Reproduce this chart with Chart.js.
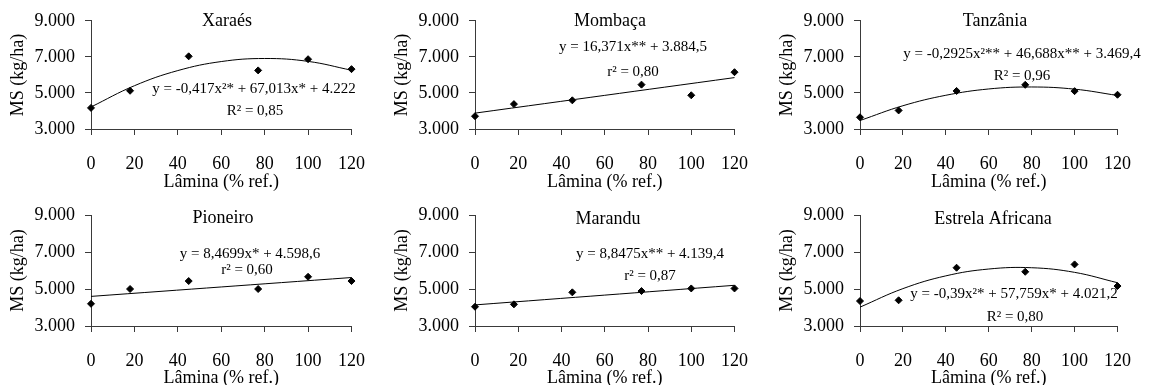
<!DOCTYPE html>
<html lang="pt-BR">
<head>
<meta charset="utf-8">
<title>MS x Lâmina</title>
<script src="https://cdn.jsdelivr.net/npm/chart.js@4.4.0/dist/chart.umd.min.js"></script>
<style>
    html, body { margin: 0; padding: 0; background: #fff; overflow: hidden; }
    #grid { position: relative; width: 1149px; height: 385px; overflow: hidden; }
    #grid canvas { position: absolute; }
</style>
</head>
<body>
<div id="grid"></div>
<script>
// eixos
const laminas = [0, 18, 45, 77, 100, 120];
const xTicks = [0, 20, 40, 60, 80, 100, 120];
const yTicks = [3000, 5000, 7000, 9000];
const yTickLabels = ['3.000', '5.000', '7.000', '9.000'];

// MS observada (kg/ha)
const msXaraes = [4170, 5120, 7030, 6250, 6870, 6320];
const msMombaca = [3710, 4380, 4590, 5460, 4870, 6150];
const msTanzania = [3650, 4030, 5110, 5450, 5100, 4900];
const msPioneiro = [4200, 5000, 5430, 5000, 5660, 5430];
const msMarandu = [4040, 4170, 4820, 4890, 5030, 5030];
const msEstrela = [4350, 4390, 6150, 5930, 6330, 5160];

// curvas ajustadas
const curveX = [0, 20, 40, 60, 80, 100, 120];
const lineX = [0, 120];
const fitXaraes = [4220, 5400, 6240, 6740, 6910, 6750, 6260];
const fitMombaca = [3880, 5850];
const fitTanzania = [3470, 4290, 4870, 5220, 5330, 5210, 4860];
const fitPioneiro = [4600, 5620];
const fitMarandu = [4140, 5200];
const fitEstrela = [4020, 5020, 5710, 6080, 6150, 5900, 5340];

// textos
const titles = ['Xaraés', 'Mombaça', 'Tanzânia', 'Pioneiro', 'Marandu', 'Estrela Africana'];
const equations = [
    'y = -0,417x²* + 67,013x* + 4.222',
    'y = 16,371x** + 3.884,5',
    'y = -0,2925x²** + 46,688x** + 3.469,4',
    'y = 8,4699x* + 4.598,6',
    'y = 8,8475x** + 4.139,4',
    'y = -0,39x²* + 57,759x* + 4.021,2'
];
const determinations = ['R² = 0,85', 'r² = 0,80', 'R² = 0,96', 'r² = 0,60', 'r² = 0,87', 'R² = 0,80'];
const xTitle = 'Lâmina (% ref.)';
const yTitle = 'MS (kg/ha)';

const FONT = '"Liberation Serif", "Times New Roman", serif';
const AXIS_COLOR = '#3a3a3a';

/**
 * Desenha titulo e equacoes dentro de cada painel
 */
const panelText = {
    id: 'panelText',
    afterDraw(chart, args, opts) {
        const ctx = chart.ctx;
        ctx.save();
        ctx.fillStyle = '#000';
        ctx.textAlign = 'center';
        ctx.textBaseline = 'middle';
        opts.items.forEach(item => {
            ctx.font = item.size + 'px ' + FONT;
            ctx.fillText(item.text, item.x, item.y);
        });
        ctx.restore();
    }
};

const MsCharts = {
    // layout de cada painel (posicao na pagina e textos)
    panels: [
        { ms: msXaraes, fitX: curveX, fit: fitXaraes, left: 0, top: 0, h: 193, axisW: 91, padRight: 20, padTop: 16, xAxisH: 64,
          pos: [[227, 21], [254, 89], [255, 111]] },
        { ms: msMombaca, fitX: lineX, fit: fitMombaca, left: 383, top: 0, h: 193, axisW: 92, padRight: 19, padTop: 16, xAxisH: 64,
          pos: [[227, 21], [250, 47], [250, 72]] },
        { ms: msTanzania, fitX: curveX, fit: fitTanzania, left: 766, top: 0, h: 193, axisW: 94, padRight: 16, padTop: 16, xAxisH: 64,
          pos: [[229, 21], [256, 54], [256, 76]] },
        { ms: msPioneiro, fitX: lineX, fit: fitPioneiro, left: 0, top: 193, h: 196, axisW: 91, padRight: 20, padTop: 22, xAxisH: 63,
          pos: [[223, 25], [250, 61], [247, 77]] },
        { ms: msMarandu, fitX: lineX, fit: fitMarandu, left: 383, top: 193, h: 196, axisW: 92, padRight: 19, padTop: 22, xAxisH: 63,
          pos: [[225, 26], [267, 61], [267, 83]] },
        { ms: msEstrela, fitX: curveX, fit: fitEstrela, left: 766, top: 193, h: 196, axisW: 94, padRight: 16, padTop: 22, xAxisH: 63,
          pos: [[227, 26], [248, 101], [249, 124]] }
    ],

    /**
     * Monta a configuracao do Chart.js para um painel
     * @param {object} p - painel
     * @param {number} i - indice do painel
     */
    buildConfig(p, i) {
        const tickFont = { family: FONT, size: 18 };
        return {
            type: 'scatter',
            data: {
                datasets: [
                    {
                        data: laminas.map((x, k) => ({ x: x, y: p.ms[k] })),
                        pointStyle: 'rectRot',
                        pointRadius: 3.5,
                        borderWidth: 1,
                        backgroundColor: '#000',
                        borderColor: '#000',
                        showLine: false,
                        clip: false
                    },
                    {
                        data: p.fitX.map((x, k) => ({ x: x, y: p.fit[k] })),
                        showLine: true,
                        pointRadius: 0,
                        borderColor: '#000',
                        borderWidth: 1,
                        tension: 0.4,
                        clip: false
                    }
                ]
            },
            options: {
                responsive: false,
                animation: false,
                devicePixelRatio: 1,
                layout: { padding: { left: 0, right: p.padRight, top: p.padTop, bottom: 0 } },
                plugins: {
                    legend: { display: false },
                    tooltip: { enabled: false },
                    panelText: {
                        items: [
                            { text: titles[i], x: p.pos[0][0], y: p.pos[0][1], size: 18 },
                            { text: equations[i], x: p.pos[1][0], y: p.pos[1][1], size: 15 },
                            { text: determinations[i], x: p.pos[2][0], y: p.pos[2][1], size: 15 }
                        ]
                    }
                },
                scales: {
                    x: {
                        type: 'linear',
                        min: 0,
                        max: 120,
                        afterBuildTicks: scale => { scale.ticks = xTicks.map(v => ({ value: v })); },
                        afterFit: scale => { scale.height = p.xAxisH; },
                        ticks: { font: tickFont, color: '#000', padding: 18, maxRotation: 0, callback: v => String(v) },
                        grid: { drawOnChartArea: false, drawTicks: true, tickLength: 6, color: AXIS_COLOR },
                        border: { display: true, color: AXIS_COLOR, width: 1 },
                        title: { display: true, text: xTitle, font: tickFont, color: '#000', padding: { top: 0, bottom: 0 } }
                    },
                    y: {
                        type: 'linear',
                        min: 3000,
                        max: 9000,
                        afterBuildTicks: scale => { scale.ticks = yTicks.map(v => ({ value: v })); },
                        afterFit: scale => { scale.width = p.axisW; },
                        ticks: { font: tickFont, color: '#000', padding: 10, callback: v => yTickLabels[yTicks.indexOf(v)] },
                        grid: { drawOnChartArea: false, drawTicks: true, tickLength: 6, color: AXIS_COLOR },
                        border: { display: true, color: AXIS_COLOR, width: 1 },
                        title: { display: true, text: yTitle, font: tickFont, color: '#000', padding: { top: p.axisW - 84, bottom: 0 } }
                    }
                }
            },
            plugins: [panelText]
        };
    },

    render(containerId) {
        const container = document.getElementById(containerId);
        this.panels.forEach((p, i) => {
            const canvas = document.createElement('canvas');
            canvas.width = 383;
            canvas.height = p.h;
            canvas.style.left = p.left + 'px';
            canvas.style.top = p.top + 'px';
            canvas.style.width = '383px';
            canvas.style.height = p.h + 'px';
            container.appendChild(canvas);
            new Chart(canvas.getContext('2d'), this.buildConfig(p, i));
        });
    }
};

MsCharts.render('grid');
</script>
</body>
</html>
